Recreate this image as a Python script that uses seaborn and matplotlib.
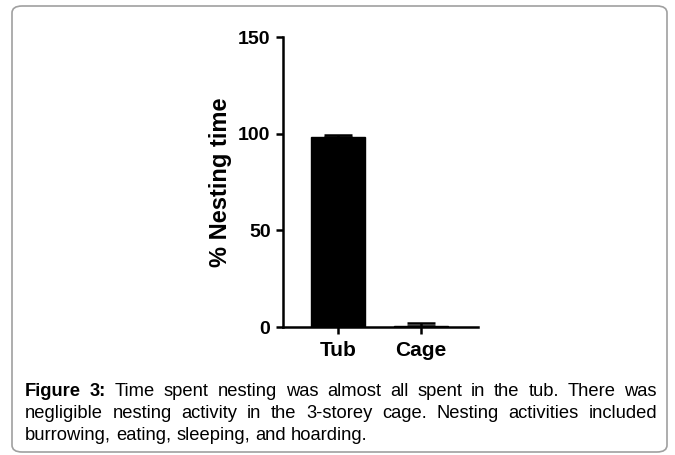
import numpy as np
import pandas as pd
import seaborn as sns
import matplotlib.pyplot as plt
from matplotlib.patches import FancyBboxPatch

# data
groups = ['Tub', 'Cage']
nesting_pct = [98.5, 0.4]
sem_upper = [1.0, 1.5]

caption_lines = [
    ['Figure 3:', 'Time spent nesting was almost all spent in the tub. There was'],
    ['', 'negligible nesting activity in the 3-storey cage. Nesting activities included'],
    ['', 'burrowing, eating, sleeping, and hoarding.'],
]

W, H = 675, 455

sns.set_theme(style='ticks')
plt.rcParams['font.family'] = ['Liberation Sans', 'DejaVu Sans']
plt.rcParams.update({'text.color': 'black', 'axes.labelcolor': 'black',
                     'xtick.color': 'black', 'ytick.color': 'black',
                     'axes.edgecolor': 'black'})

df = pd.DataFrame({'group': groups, 'pct': nesting_pct})

fig = plt.figure(figsize=(W / 100, H / 100), dpi=100)
ax = fig.add_axes([283 / W, (H - 327) / H, (478 - 283) / W, (327 - 37) / H])

sns.barplot(data=df, x='group', y='pct', color='black', width=0.65,
            errorbar=None, ax=ax, saturation=1)
for p in ax.patches:
    p.set_edgecolor('black')
ax.errorbar(np.arange(len(groups)), nesting_pct,
            yerr=[np.zeros(len(groups)), sem_upper],
            fmt='none', ecolor='black', elinewidth=1.8, capsize=10, capthick=1.8)

ax.set_ylim(0, 150)
ax.set_xlim(-0.66, 1.69)
ax.set_yticks([0, 50, 100, 150])
ax.set_xlabel('')
ax.set_ylabel('% Nesting time', fontsize=17, fontweight='bold', labelpad=4)
sns.despine(ax=ax)
for s in ['left', 'bottom']:
    ax.spines[s].set_linewidth(1.8)
ax.tick_params(axis='both', width=1.8, length=5, color='black', labelcolor='black')
ax.tick_params(axis='y', labelsize=14, pad=4)
ax.tick_params(axis='x', labelsize=15, pad=5)
for lab in ax.get_xticklabels() + ax.get_yticklabels():
    lab.set_fontweight('bold')

# rounded frame around figure + caption
frame = FancyBboxPatch((12 / W, (H - 452) / H), (667 - 12) / W, (452 - 6) / H,
                       boxstyle='round,pad=0,rounding_size=0.015',
                       transform=fig.transFigure, facecolor='none',
                       edgecolor='#a0a0a0', linewidth=1.2)
fig.patches.append(frame)

# justified caption
fig.canvas.draw()
renderer = fig.canvas.get_renderer()
x0, x1 = 25, 657
ys = [392, 414, 436]
for i, (bold_part, rest) in enumerate(caption_lines):
    words = []
    if bold_part:
        words += [(w, 'bold') for w in bold_part.split()]
    words += [(w, 'normal') for w in rest.split()]
    texts = []
    for w, wt in words:
        t = fig.text(0, 1 - ys[i] / H, w, fontsize=13.2, fontweight=wt,
                     va='center', ha='left', color='black')
        texts.append(t)
    widths = [t.get_window_extent(renderer).width for t in texts]
    if i < len(caption_lines) - 1:
        gap = (x1 - x0 - sum(widths)) / (len(texts) - 1)
    else:
        sp = fig.text(0, 0, 'a b', fontsize=13.2)
        sp2 = fig.text(0, 0, 'ab', fontsize=13.2)
        gap = sp.get_window_extent(renderer).width - sp2.get_window_extent(renderer).width
        sp.remove()
        sp2.remove()
    x = x0
    for t, w in zip(texts, widths):
        t.set_x(x / W)
        x += w + gap

fig.savefig('out.png', dpi=100)
